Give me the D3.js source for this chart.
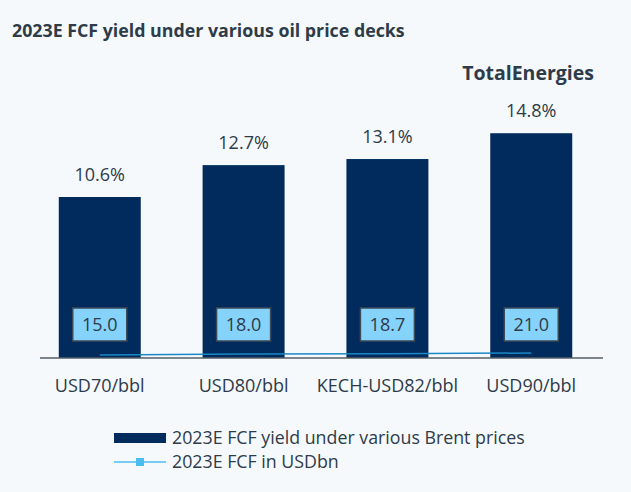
<!DOCTYPE html>
<html>
<head>
<meta charset="utf-8">
<script src="https://cdn.jsdelivr.net/npm/d3@7"></script>
<style>
  body { margin:0; background:#f5f9fc; }
  svg { display:block; font-family: "Open Sans", "Noto Sans", sans-serif; }
</style>
</head>
<body>
<div id="chart"></div>
<script>
var W = 631, H = 492;

// data
var decks = ["USD70/bbl", "USD80/bbl", "KECH-USD82/bbl", "USD90/bbl"];
var fcfYield = [10.6, 12.7, 13.1, 14.8];
var fcfBn = [15.0, 18.0, 18.7, 21.0];
var legendLabels = ["2023E FCF yield under various Brent prices", "2023E FCF in USDbn"];

var navy = "#002b5c",
    lineBlue = "#1b87c6",
    boxBlue = "#85d3fa",
    textCol = "#2e3b48";

var svg = d3.select("#chart")
  .append("svg")
  .attr("width", W)
  .attr("height", H);

svg.append("rect")
  .attr("width", W).attr("height", H)
  .attr("fill", "#f5f9fc");

// scales
var scaleX = d3.scaleBand()
  .domain(decks)
  .range([30, 601])
  .paddingInner(0.43)
  .paddingOuter(0.2);

var scaleY = d3.scaleLinear()
  .domain([0, 16])
  .range([358, 115]);

// secondary axis for FCF, hidden
var scaleY2 = d3.scaleLinear()
  .domain([0, 730])
  .range([360, 117]);

// title
svg.append("text")
  .attr("x", 12)
  .attr("y", 37)
  .attr("font-size", "17.8px")
  .attr("font-weight", "bold")
  .attr("fill", textCol)
  .text("2023E FCF yield under various oil price decks");

svg.append("text")
  .attr("x", 594)
  .attr("y", 80)
  .attr("text-anchor", "end")
  .attr("font-size", "19.5px")
  .attr("font-weight", "bold")
  .attr("fill", textCol)
  .text("TotalEnergies");

// bars
svg.selectAll(".bar")
  .data(fcfYield)
  .enter()
  .append("rect")
  .attr("class", "bar")
  .attr("x", function(d, i) { return scaleX(decks[i]); })
  .attr("y", function(d) { return scaleY(d); })
  .attr("width", scaleX.bandwidth())
  .attr("height", function(d) { return scaleY(0) - scaleY(d); })
  .attr("fill", navy);

svg.selectAll(".barlabel")
  .data(fcfYield)
  .enter()
  .append("text")
  .attr("class", "barlabel")
  .attr("x", function(d, i) { return scaleX(decks[i]) + scaleX.bandwidth() / 2; })
  .attr("y", function(d) { return scaleY(d) - 16; })
  .attr("text-anchor", "middle")
  .attr("font-size", "18px")
  .attr("fill", textCol)
  .text(function(d) { return d.toFixed(1) + "%"; });

// axis line
svg.append("line")
  .attr("x1", 40).attr("x2", 603)
  .attr("y1", scaleY(0)).attr("y2", scaleY(0))
  .attr("stroke", "#555f69")
  .attr("stroke-width", 1.5);

// FCF line
var line = d3.line()
  .x(function(d, i) { return scaleX(decks[i]) + scaleX.bandwidth() / 2; })
  .y(function(d) { return scaleY2(d); });

svg.append("path")
  .datum(fcfBn)
  .attr("d", line)
  .attr("fill", "none")
  .attr("stroke", lineBlue)
  .attr("stroke-width", 1.5);

// FCF labels in boxes
var lab = svg.selectAll(".fcflab")
  .data(fcfBn)
  .enter()
  .append("g")
  .attr("class", "fcflab")
  .attr("transform", function(d, i) {
    return "translate(" + (scaleX(decks[i]) + scaleX.bandwidth() / 2) + "," + 324 + ")";
  });

lab.append("rect")
  .attr("x", -27).attr("y", -16)
  .attr("width", 54).attr("height", 33)
  .attr("fill", boxBlue)
  .attr("stroke", "#3d4a57")
  .attr("stroke-width", 1.5);

lab.append("text")
  .attr("y", 7)
  .attr("text-anchor", "middle")
  .attr("font-size", "18px")
  .attr("fill", textCol)
  .text(function(d) { return d.toFixed(1); });

// x axis labels
svg.selectAll(".xlab")
  .data(decks)
  .enter()
  .append("text")
  .attr("class", "xlab")
  .attr("x", function(d) { return scaleX(d) + scaleX.bandwidth() / 2; })
  .attr("y", 392)
  .attr("text-anchor", "middle")
  .attr("font-size", "18px")
  .attr("fill", textCol)
  .text(function(d) { return d; });

// legend
var lg = svg.append("g").attr("transform", "translate(114,0)");
lg.append("rect")
  .attr("x", 0).attr("y", 433)
  .attr("width", 52).attr("height", 10)
  .attr("fill", navy);
lg.append("text")
  .attr("x", 58).attr("y", 444)
  .attr("font-size", "17.8px")
  .attr("fill", textCol)
  .text(legendLabels[0]);
lg.append("line")
  .attr("x1", 0).attr("x2", 52)
  .attr("y1", 462).attr("y2", 462)
  .attr("stroke", "#4cbdf0")
  .attr("stroke-width", 1.5);
lg.append("rect")
  .attr("x", 22).attr("y", 458)
  .attr("width", 8).attr("height", 8)
  .attr("fill", "#4cbdf0");
lg.append("text")
  .attr("x", 58).attr("y", 468)
  .attr("font-size", "17.8px")
  .attr("fill", textCol)
  .text(legendLabels[1]);
</script>
</body>
</html>
